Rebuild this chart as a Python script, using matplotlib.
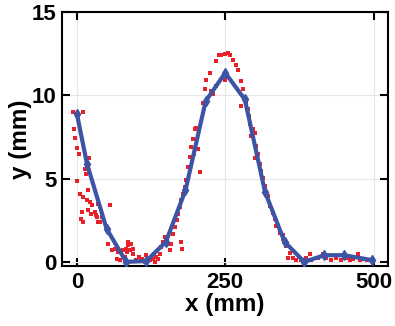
import matplotlib
matplotlib.use("Agg")
import matplotlib.pyplot as plt

# Blue fitted line (x in mm, y in mm)
line_x = [0, 17, 50, 83, 117, 150, 183, 217, 250, 283, 317, 350, 383, 417, 450, 498]
line_y = [8.9, 5.9, 2.0, 0.0, 0.05, 1.2, 4.3, 9.65, 11.35, 9.75, 4.2, 1.2, 0.0, 0.4, 0.4, 0.1]

# Red measured points
pts_x = [-7, 9.6, -5.6, -3, 0, 3, 20, 14, 15, 0, 5.6, 11, 18.5, 17, 22, 25, 8.4, 7, 9.6, 24,
         31, 34, 35, 42, 56, 39, 35, 19, 33, 5, 53, 59, 64.5, 70, 67, 81, 87, 90, 84, 78,
         86, 92, 95, 72, 84, 89, 95, 83.6, 117, 123, 128, 134, 140, 142.6, 145, 148, 151, 154, 156.6, 159,
         162, 165, 168, 170.5, 173, 176, 179, 176, 177, 114, 131, 182, 184.6, 187.5, 190, 193, 196, 198.6, 201.5, 204,
         207, 197, 212.6, 215.5, 218, 224, 229.5, 235, 226.7, 235, 239.6, 243.6, 249, 254.7, 258.7, 263, 267.7, 271.5,
         249, 277, 280, 283, 276, 285.6, 288, 290, 292.5, 297, 299.7, 294, 302.5, 299.7, 305, 308, 311, 313.6, 316.5, 322,
         311, 316.5, 325, 330.5, 333, 336, 342, 347, 353, 358.6, 355.7, 364, 370, 378, 386.7, 392, 395, 406, 414.6, 420,
         429, 437, 445.6, 454, 459.6, 465, 473.6, 476.4, 482, 488, 347, 100, 108, 136, 105, 110]
pts_y = [9.0, 9.0, 7.95, 7.45, 6.85, 6.5, 6.25, 5.6, 5.3, 4.85, 4.1, 3.9, 4.3, 3.7, 3.6, 3.4, 3.0, 2.6, 2.4, 2.9,
         3.0, 2.7, 2.4, 2.7, 3.4, 2.4, 3.5, 3.1, 2.8, 4.1, 1.1, 0.7, 0.8, 0.6, 0.2, 0.3, 1.0, 0.7, 0.6, 0.7,
         1.2, 1.1, 0.8, 0.1, 0.02, 0.7, 0.5, 0.8, 0.4, 0.1, 0.2, 0.3, 0.5, 0.9, 1.2, 1.5, 1.3, 1.1, 0.7, 1.1,
         1.7, 2.1, 2.5, 2.9, 3.3, 3.7, 4.1, 1.2, 0.8, 0.02, 0.02, 4.5, 4.9, 5.7, 6.3, 6.9, 7.35, 7.95, 8.05, 6.75,
         5.4, 6.5, 9.55, 10.35, 10.95, 11.35, 10.05, 10.55, 10.25, 12.05, 12.4, 12.45, 12.5, 12.55, 12.45, 12.15, 11.85, 11.55,
         10.95, 10.85, 10.35, 9.85, 9.35, 9.55, 9.15, 8.75, 8.25, 7.95, 7.75, 7.55, 6.95, 6.25, 6.45, 5.85, 5.45, 5.05, 4.55, 3.95,
         5.35, 4.15, 3.35, 2.95, 2.55, 2.15, 1.75, 1.35, 0.95, 0.55, 0.25, 0.25, 0.1, 0.1, 0.25, 0.45, 0.1, 0.25, 0.45, 0.25,
         0.1, 0.25, 0.1, 0.25, 0.1, 0.15, 0.45, 0.1, 0.15, 0.1, 1.6, 0.1, 0.05, 0.15, 0.3, 0.2]

x_ticks = [0, 250, 500]
y_ticks = [0, 5, 10, 15]

plt.rcParams['font.family'] = ['Liberation Sans', 'DejaVu Sans']

fig = plt.figure(figsize=(3.95, 3.26), dpi=100)
ax = fig.add_axes([0.157, 0.184, 0.825, 0.779])

ax.plot(pts_x, pts_y, linestyle='none', marker='s', markersize=2.2,
        color='#E8202A', markeredgewidth=0, zorder=2)
ax.plot(line_x, line_y, color='#3B54A4', linewidth=3, marker='d', markersize=5,
        zorder=3)

ax.set_xlim(-25, 524)
ax.set_ylim(-0.25, 15)
ax.set_xticks(x_ticks)
ax.set_yticks(y_ticks)
ax.grid(True, color='#e6e6e6', linewidth=0.8)
ax.set_axisbelow(True)
ax.tick_params(direction='in', length=6, width=1.5, top=True, right=True,
               labelsize=16, pad=4)
for lab in ax.get_xticklabels() + ax.get_yticklabels():
    lab.set_fontweight('bold')
for s in ax.spines.values():
    s.set_linewidth(1.5)
ax.set_xlabel('x (mm)', fontsize=17.5, fontweight='bold', labelpad=0)
ax.set_ylabel('y (mm)', fontsize=17.5, fontweight='bold', labelpad=0)

fig.savefig('out.png', dpi=100)
